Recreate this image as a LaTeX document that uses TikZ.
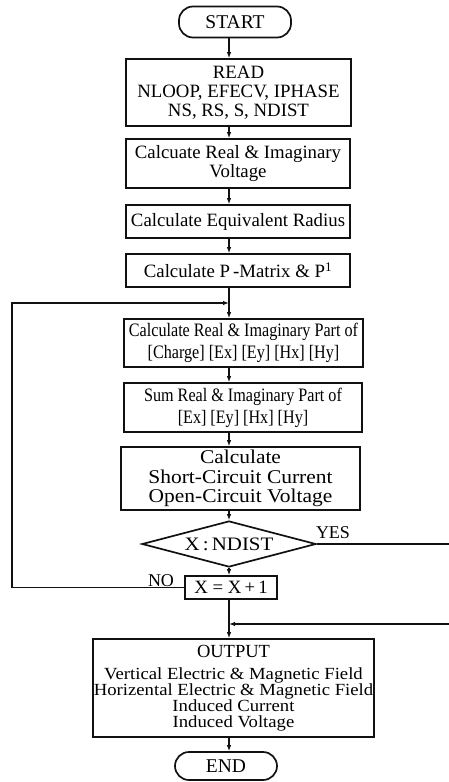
\documentclass[tikz,border=0pt]{standalone}
\usepackage{fontspec}
\setmainfont{Liberation Serif}
\newfontfamily\narrowserif[FakeStretch=0.85]{Liberation Serif}
\newfontfamily\wideserif[FakeStretch=1.1]{Liberation Serif}
\usetikzlibrary{arrows.meta, positioning, shapes.geometric}
\definecolor{linecol}{HTML}{111111}
\tikzset{
    procbox/.style 2 args={rectangle, draw=linecol, line width=1.7pt, minimum width=#1, minimum height=#2, inner sep=0pt, align=center, font=\fontsize{18.8}{19}\selectfont},
    narrowbox/.style 2 args={procbox={#1}{#2}, font=\narrowserif\fontsize{19}{22}\selectfont},
    widebox/.style 2 args={procbox={#1}{#2}, font=\wideserif\fontsize{19.5}{19.5}\selectfont},
    termbox/.style 2 args={procbox={#1}{#2}, rounded corners=14pt, font=\fontsize{19.5}{19.5}\selectfont},
    decbox/.style={diamond, draw=linecol, line width=1.7pt, aspect=3.8, minimum width=174pt, minimum height=46pt, inner sep=0pt, font=\wideserif\fontsize{19}{19}\selectfont},
    flowlabel/.style={font=\fontsize{18}{18}\selectfont, inner sep=0pt},
    flowarrow/.style={-{Latex[length=6pt, width=4.5pt]}, draw=linecol, line width=1.6pt},
}
\begin{document}
\begin{tikzpicture}[x=1pt, y=-1pt]
\useasboundingbox (0,0) rectangle (449,782);
\coordinate (col) at (229,0);
\node[termbox={112pt}{31pt}] (start) at (235,22) {START};
\node[procbox={225pt}{67pt}] (read) at (238.5,92.5)
    {READ\\ NLOOP, EFECV, IPHASE\\ NS, RS, S, NDIST};
\node[procbox={224pt}{49pt}] (volt) at (238,163.5)
    {Calcuate Real \& Imaginary\\ Voltage};
\node[procbox={224pt}{33pt}] (equiv) at (238,221.5) {Calculate Equivalent Radius};
\node[procbox={224pt}{33pt}] (pmat) at (238,270.5)
    {Calculate P\,-Matrix \& P\textsuperscript{1}};
\node[narrowbox={239pt}{48pt}] (charge) at (243.5,343)
    {Calculate Real \& Imaginary Part of\\ {[Charge] [Ex] [Ey] [Hx] [Hy]}};
\node[narrowbox={238pt}{49pt}] (sumfld) at (243,407.5)
    {Sum Real \& Imaginary Part of\\ {[Ex] [Ey] [Hx] [Hy]}};
\node[widebox={239pt}{63pt}] (calc) at (240.5,478.5)
    {Calculate\\ Short-Circuit Current\\ Open-Circuit Voltage};
\node[decbox] (test) at (229,544) {X\,:\,NDIST};
\node[procbox={92pt}{23pt}] (incr) at (231,587.5) {X = X\,+\,1};
\node[procbox={281pt}{98pt}, font=\wideserif\fontsize{17}{16}\selectfont] (output) at (233.5,688)
    {{\rmfamily\fontsize{18.5}{16}\selectfont OUTPUT}\\[6pt] Vertical Electric \& Magnetic Field\\ Horizental Electric \& Magnetic Field\\ Induced Current\\ Induced Voltage};
\node[termbox={102pt}{28pt}] (stop) at (226,766) {END};
\node[flowlabel] (yeslbl) at (333,533) {YES};
\node[flowlabel] (nolbl) at (161,581) {NO};
% loop points
\coordinate (loopjoin) at (229,303);
\coordinate (backedge) at (12,303);
\coordinate (merge) at (229,624);
\coordinate (yesturn) at (462,624);
\draw[flowarrow] (start.south -| col) -- (read.north -| col);
\draw[flowarrow] (read.south -| col) -- (volt.north -| col);
\draw[flowarrow] (volt.south -| col) -- (equiv.north -| col);
\draw[flowarrow] (equiv.south -| col) -- (pmat.north -| col);
\draw[flowarrow] (pmat.south -| col) -- (charge.north -| col);
\draw[flowarrow] (charge.south -| col) -- (sumfld.north -| col);
\draw[flowarrow] (sumfld.south -| col) -- (calc.north -| col);
\draw[flowarrow] (calc.south -| col) -- (test.north);
\draw[flowarrow] (test.south) -- (incr.north -| col);
\draw[flowarrow] (incr.west) -| (backedge) -- (loopjoin);
\draw[flowarrow] (test.east) -| (yesturn) -- (merge);
\draw[flowarrow] (incr.south -| col) -- (output.north -| col);
\draw[flowarrow] (output.south -| col) -- (stop.north -| col);
\end{tikzpicture}
\end{document}
